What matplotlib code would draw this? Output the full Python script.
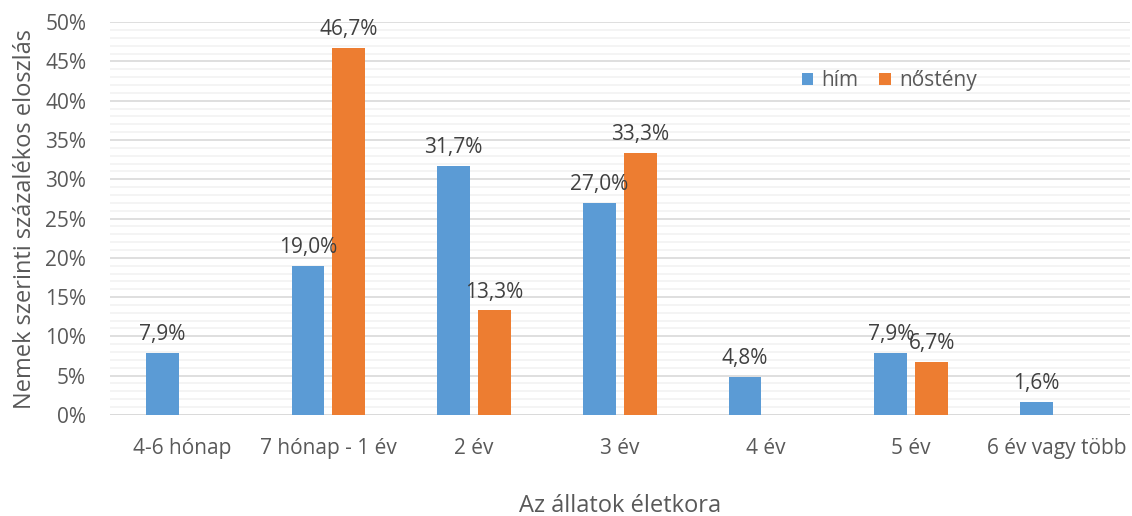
import matplotlib
matplotlib.use("Agg")
import matplotlib.pyplot as plt
import numpy as np
from matplotlib.ticker import MultipleLocator, FuncFormatter

categories = ["4-6 hónap", "7 hónap - 1 év", "2 év", "3 év", "4 év", "5 év", "6 év vagy több"]
him = [7.9, 19.0, 31.7, 27.0, 4.8, 7.9, 1.6]
nosteny = [0.0, 46.7, 13.3, 33.3, 0.0, 6.7, 0.0]
series_names = ["hím", "nőstény"]
colors = ["#5B9BD5", "#ED7D31"]

plt.rcParams["font.family"] = ["Open Sans", "DejaVu Sans"]
txt = "#595959"

fig = plt.figure(figsize=(11.32, 5.16), dpi=100)
ax = fig.add_axes([0.097, 0.196, 0.901, 0.761])

x = np.arange(len(categories))
w = 0.225
off = 0.14
ax.bar(x - off, him, w, color=colors[0], label=series_names[0], zorder=3)
ax.bar(x + off, nosteny, w, color=colors[1], label=series_names[1], zorder=3)

def fmt(v):
    return f"{v:.1f}".replace(".", ",") + "%"

for xi, v in zip(x, him):
    if v > 0:
        ax.text(xi - off, v + 1.0, fmt(v), ha="center", va="bottom", fontsize=15, color="#404040")
for xi, v in zip(x, nosteny):
    if v > 0:
        ax.text(xi + off, v + 1.0, fmt(v), ha="center", va="bottom", fontsize=15, color="#404040")

ax.set_xlim(-0.5, len(categories) - 0.5)
ax.set_ylim(0, 50)
ax.yaxis.set_major_locator(MultipleLocator(5))
ax.yaxis.set_minor_locator(MultipleLocator(1))
ax.yaxis.set_major_formatter(FuncFormatter(lambda v, p: f"{v:.0f}%"))
ax.grid(axis="y", which="major", color="#D9D9D9", linewidth=1.2, zorder=0)
ax.grid(axis="y", which="minor", color="#F2F2F2", linewidth=1.2, zorder=0)
ax.set_axisbelow(True)
for s in ax.spines.values():
    s.set_visible(False)
ax.axhline(0, color="#D9D9D9", linewidth=1.2, zorder=2)
ax.tick_params(axis="both", which="both", length=0, labelsize=15, colors=txt)
ax.tick_params(axis="y", pad=17)
ax.tick_params(axis="x", pad=17)
ax.set_xticks(x)
ax.set_xticklabels(categories)

ax.set_xlabel("Az állatok életkora", fontsize=17, color=txt, labelpad=25)
ax.set_ylabel("Nemek szerinti százalékos eloszlás", fontsize=17, color=txt, labelpad=6)

leg = ax.legend(loc="upper left", bbox_to_anchor=(0.66, 0.925), ncol=2, frameon=False,
                fontsize=15, handlelength=0.55, handleheight=0.55, handletextpad=0.4,
                columnspacing=1.0, labelcolor=txt)

fig.savefig("out.png", dpi=100)
